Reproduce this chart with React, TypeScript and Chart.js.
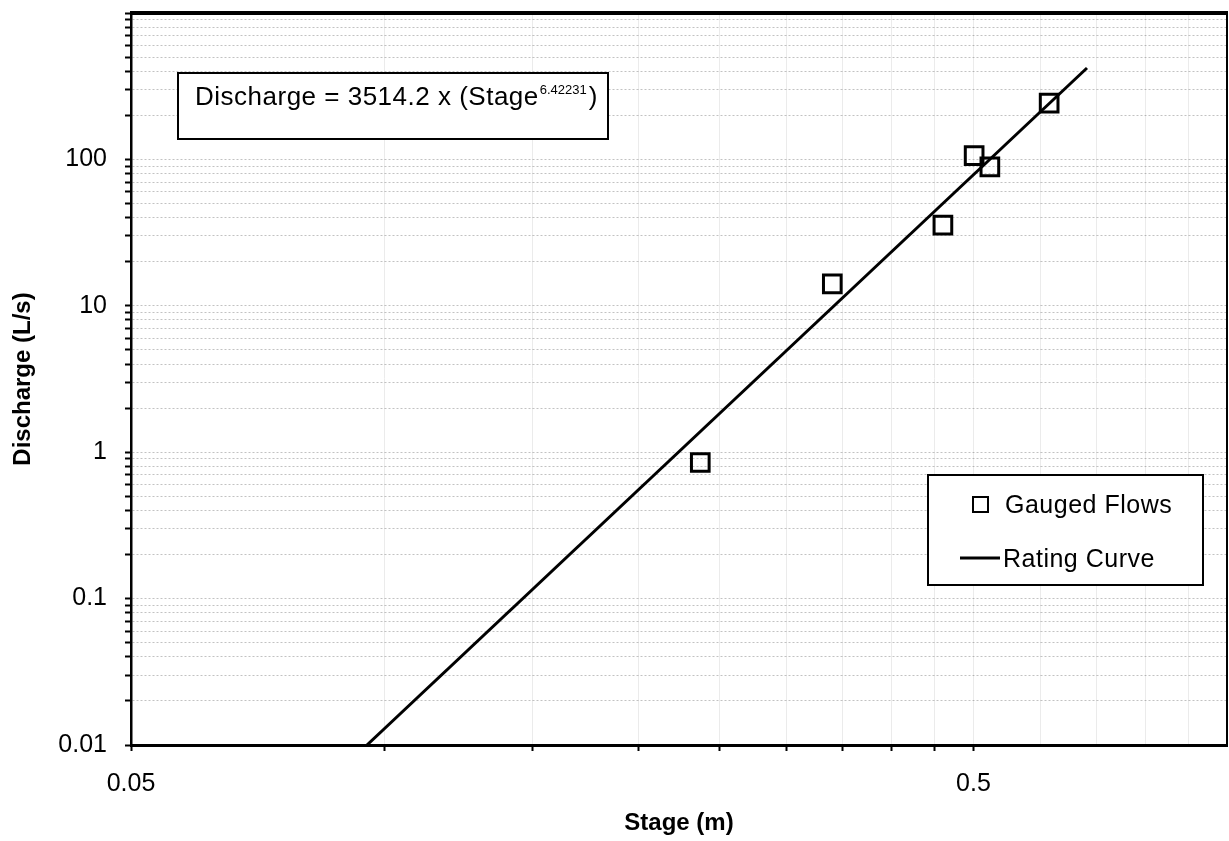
import React, { useEffect, useRef } from 'react';
import { Chart, registerables } from 'chart.js';

Chart.register(...registerables);

// ---- data ----
const gaugedStage = [0.237, 0.34, 0.46, 0.501, 0.523, 0.615];
const gaugedDischarge = [0.85, 14.1, 35.6, 106, 89, 242];
const ratingStage = [0.0953, 0.682];
const ratingDischarge = [0.01, 421];

// ---- ticks ----
const yDecades = [0.01, 0.1, 1, 10, 100];
const yMinorSteps = [1, 2, 3, 4, 5, 6, 7, 8, 9];
const yTickLabels = ['0.01', '0.1', '1', '10', '100'];
const yTop = 1000;
const xGridStages = [0.05, 0.1, 0.15, 0.2, 0.25, 0.3, 0.35, 0.4, 0.45, 0.5, 0.6, 0.7, 0.8, 0.9, 1.0];
const xLabelValues = [0.05, 0.5];
const xTickLabels = ['0.05', '0.5'];

const equationText = 'Discharge = 3514.2 x (Stage';
const equationExponent = '6.42231';
const FONT = '"Liberation Sans", Arial, Helvetica, sans-serif';

const yTicks = yDecades
  .flatMap((d) => yMinorSteps.map((m) => +(d * m).toPrecision(6)))
  .concat([yTop]);

const near = (a: number, b: number) => Math.abs(a - b) / b < 1e-6;

const overlayPlugin = {
  id: 'overlay',
  afterDraw(chart: any) {
    const ctx = chart.ctx as CanvasRenderingContext2D;
    const { left, right, top, bottom } = chart.chartArea;
    ctx.save();
    ctx.strokeStyle = '#000';
    // top border
    ctx.lineWidth = 4;
    ctx.beginPath();
    ctx.moveTo(left - 1, top);
    ctx.lineTo(right + 1, top);
    ctx.stroke();
    // right border
    ctx.lineWidth = 2;
    ctx.beginPath();
    ctx.moveTo(right, top);
    ctx.lineTo(right, bottom);
    ctx.stroke();

    // equation box
    ctx.fillStyle = '#fff';
    ctx.fillRect(178, 73, 430, 66);
    ctx.lineWidth = 2;
    ctx.strokeRect(178, 73, 430, 66);
    ctx.fillStyle = '#000';
    ctx.textBaseline = 'alphabetic';
    ctx.textAlign = 'left';
    (ctx as any).letterSpacing = '0.5px';
    ctx.font = `26px ${FONT}`;
    ctx.fillText(equationText, 195, 105);
    let x = 195 + ctx.measureText(equationText).width + 1;
    (ctx as any).letterSpacing = '0px';
    ctx.font = `13px ${FONT}`;
    ctx.fillText(equationExponent, x, 94);
    x += ctx.measureText(equationExponent).width + 2;
    ctx.font = `26px ${FONT}`;
    ctx.fillText(')', x, 105);

    // legend
    const ds = chart.data.datasets;
    ctx.fillStyle = '#fff';
    ctx.fillRect(928, 475, 275, 110);
    ctx.lineWidth = 2;
    ctx.strokeRect(928, 475, 275, 110);
    ctx.strokeRect(973, 497, 15, 15);
    ctx.lineWidth = 3;
    ctx.beginPath();
    ctx.moveTo(960, 558);
    ctx.lineTo(1000, 558);
    ctx.stroke();
    ctx.fillStyle = '#000';
    (ctx as any).letterSpacing = '0.5px';
    ctx.font = `25px ${FONT}`;
    ctx.fillText(ds[0].label, 1005, 513);
    ctx.fillText(ds[1].label, 1003, 567);
    ctx.restore();
  },
};

export default function App() {
  const canvasRef = useRef<HTMLCanvasElement | null>(null);

  useEffect(() => {
    document.body.style.margin = '0';
    const canvas = canvasRef.current;
    if (!canvas) return;

    const gauged = gaugedStage.map((s, i) => ({ x: s, y: gaugedDischarge[i] }));
    const rating = ratingStage.map((s, i) => ({ x: s, y: ratingDischarge[i] }));

    const chart = new Chart(canvas, {
      type: 'scatter',
      data: {
        datasets: [
          {
            label: 'Gauged Flows',
            data: gauged,
            pointStyle: 'rect',
            pointRadius: 12.5,
            pointHoverRadius: 12.5,
            pointBorderWidth: 3,
            pointBorderColor: '#000',
            pointBackgroundColor: 'rgba(0,0,0,0)',
            showLine: false,
          } as any,
          {
            label: 'Rating Curve',
            data: rating,
            showLine: true,
            borderColor: '#000',
            borderWidth: 3,
            pointRadius: 0,
            pointHoverRadius: 0,
          } as any,
        ],
      },
      options: {
        responsive: false,
        animation: false,
        events: [],
        layout: { autoPadding: false, padding: { top: 13, right: 2, left: 0, bottom: 0 } },
        plugins: {
          legend: { display: false },
          tooltip: { enabled: false },
        },
        scales: {
          x: {
            type: 'logarithmic',
            min: 0.05,
            max: 1.0,
            afterBuildTicks: (s: any) => {
              s.ticks = xGridStages.map((v) => ({ value: v }));
            },
            afterFit: (s: any) => {
              s.height = 96;
              s.paddingLeft = 0;
              s.paddingRight = 0;
              s.paddingTop = 0;
              s.paddingBottom = 0;
            },
            ticks: {
              autoSkip: false,
              maxRotation: 0,
              padding: 18,
              color: '#000',
              font: { family: FONT, size: 25 },
              callback: (v: any) => {
                const i = xLabelValues.findIndex((t) => near(Number(v), t));
                return i >= 0 ? xTickLabels[i] : '';
              },
            },
            grid: {
              color: '#ebebeb',
              lineWidth: 1,
              tickLength: 6,
              tickWidth: 2,
              tickColor: (c: any) => (c.tick && c.tick.value > 0.51 ? 'rgba(0,0,0,0)' : '#000'),
            },
            border: { display: true, color: '#000', width: 3 },
            title: {
              display: true,
              text: 'Stage (m)',
              color: '#000',
              font: { family: FONT, size: 24, weight: 'bold' },
              padding: { top: 0, bottom: 3 },
            },
          } as any,
          y: {
            type: 'logarithmic',
            min: 0.01,
            max: yTop,
            afterBuildTicks: (s: any) => {
              s.ticks = yTicks.map((v) => ({ value: v }));
            },
            afterFit: (s: any) => {
              s.width = 131;
              s.paddingTop = 0;
              s.paddingBottom = 0;
              s.paddingLeft = 0;
              s.paddingRight = 0;
            },
            ticks: {
              autoSkip: false,
              padding: 18,
              color: '#000',
              font: { family: FONT, size: 25 },
              callback: (v: any) => {
                const i = yDecades.findIndex((t) => near(Number(v), t));
                return i >= 0 ? yTickLabels[i] : '';
              },
            },
            grid: {
              color: 'rgba(0,0,0,0.24)',
              lineWidth: 1,
              tickLength: 6,
              tickWidth: 2,
              tickColor: '#000',
              tickBorderDash: [],
            },
            border: { display: true, color: '#000', width: 2.5, dash: [2, 2] },
            title: {
              display: true,
              text: 'Discharge (L/s)',
              color: '#000',
              font: { family: FONT, size: 24, weight: 'bold' },
              padding: { top: 9, bottom: 0 },
            },
          } as any,
        },
      },
      plugins: [overlayPlugin],
    });

    return () => chart.destroy();
  }, []);

  return (
    <div style={{ width: 1229, height: 841, background: '#fff' }}>
      <canvas ref={canvasRef} width={1229} height={841} style={{ display: 'block' }} />
    </div>
  );
}
